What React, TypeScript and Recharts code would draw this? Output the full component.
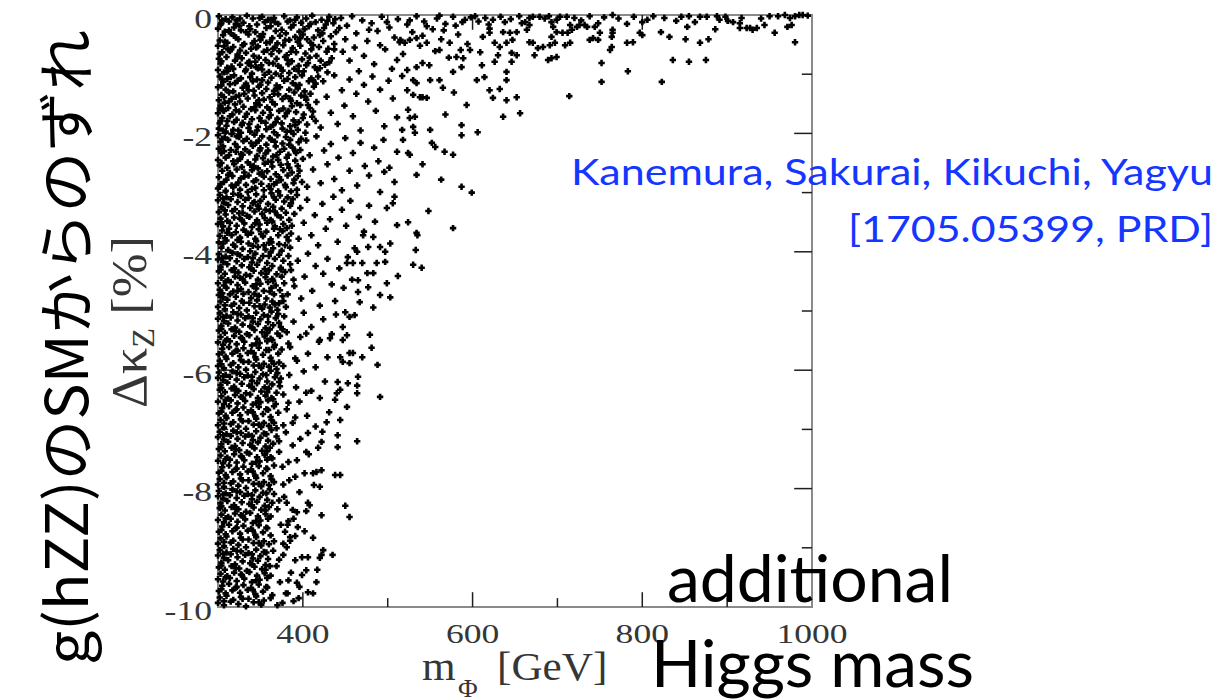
import { ReferenceArea, ReferenceLine, Scatter, ScatterChart, XAxis, YAxis } from 'recharts';

const SERIF = '"Liberation Serif", "Times New Roman", serif';
const FRAME = '#8a8a8a';
const INK = '#1e1e1e';
const LABEL = '#363636';
const BLUE = '#1436ff';

const X_TICKS = [300, 400, 500, 600, 700, 800, 900, 1000];
const Y_TICKS = [0, -1, -2, -3, -4, -5, -6, -7, -8, -9, -10];
const X_MAJOR = [400, 600, 800];
const X_MINOR = [500, 700, 900];
const Y_MAJOR = [-2, -4, -6, -8];
const Y_MINOR = [-1, -3, -5, -7, -9];

// scan points [m_Phi (GeV), delta kappa_Z (%)], grouped by 1% slices of delta kappa_Z
const band0 = [
  [301,-0.02],[309,-0.07],[317,-0.04],[322,-0.09],[334,-0.01],[341,-0.06],[352,-0.03],[359,-0.08],[366,-0.05],[378,-0.02],[385,-0.09],[393,-0.04],[404,-0.06],[411,-0.01],[422,-0.08],[431,-0.03],[438,-0.07],
  [304,-0.14],[313,-0.11],[325,-0.18],[330,-0.13],[346,-0.16],[355,-0.12],[362,-0.19],[371,-0.15],[382,-0.11],[389,-0.17],[398,-0.13],[407,-0.19],[415,-0.12],[427,-0.16],[436,-0.14],
  [300,-0.23],[308,-0.28],[319,-0.21],[327,-0.26],[338,-0.24],[344,-0.29],[357,-0.22],[368,-0.27],[375,-0.25],[386,-0.21],[396,-0.28],[402,-0.24],[418,-0.26],[425,-0.22],[439,-0.29],
  [306,-0.34],[315,-0.31],[321,-0.38],[336,-0.33],[349,-0.36],[353,-0.32],[364,-0.39],[373,-0.35],[380,-0.31],[391,-0.37],[400,-0.33],[413,-0.38],[420,-0.34],[433,-0.36],
  [302,-0.43],[311,-0.47],[324,-0.41],[331,-0.49],[343,-0.44],[350,-0.42],[361,-0.46],[370,-0.48],[384,-0.42],[394,-0.45],[405,-0.41],[409,-0.47],[424,-0.44],[437,-0.49],
  [300,-0.52],[312,-0.58],[318,-0.54],[329,-0.51],[339,-0.57],[347,-0.53],[358,-0.59],[367,-0.55],[377,-0.51],[388,-0.56],[397,-0.52],[410,-0.58],[419,-0.54],[430,-0.57],
  [305,-0.63],[314,-0.61],[323,-0.67],[333,-0.64],[342,-0.69],[354,-0.62],[363,-0.66],[372,-0.61],[381,-0.68],[392,-0.63],[403,-0.65],[416,-0.69],[428,-0.62],
  [301,-0.74],[310,-0.71],[320,-0.77],[328,-0.73],[337,-0.79],[348,-0.72],[356,-0.76],[369,-0.74],[379,-0.71],[387,-0.78],[399,-0.75],[408,-0.72],[421,-0.77],[434,-0.73],
  [303,-0.82],[316,-0.87],[326,-0.84],[335,-0.81],[345,-0.88],[351,-0.85],[365,-0.82],[374,-0.89],[383,-0.83],[395,-0.86],[406,-0.81],[414,-0.88],[426,-0.84],
  [300,-0.93],[307,-0.97],[318,-0.91],[332,-0.95],[340,-0.99],[352,-0.92],[360,-0.96],[376,-0.94],[384,-0.98],[390,-0.91],[401,-0.95],[417,-0.93],[429,-0.97],
  [303,-0.16],[308,-0.45],[302,-0.66],[311,-0.89],[315,-0.58],[326,-0.06],[319,-0.35],[344,-0.79],[357,-0.47],[362,-0.08],[371,-0.86],[345,-0.55],[333,-0.92],
  [305,-0.09],[321,-0.15],[337,-0.19],[349,-0.05],[367,-0.12],[391,-0.08],[409,-0.15],[429,-0.1],[313,-0.26],[333,-0.29],[352,-0.37],[379,-0.43],[397,-0.39],[423,-0.31],
  [307,-0.53],[326,-0.6],[341,-0.48],[365,-0.57],[386,-0.62],[412,-0.51],[304,-0.78],[323,-0.71],[339,-0.86],[360,-0.81],[382,-0.76],[404,-0.85],[431,-0.8],
  [312,-0.94],[347,-0.9],[368,-0.99],[395,-0.95],[420,-0.9],[437,-0.58],[443,-0.22],
  [445,-0.05],[452,-0.18],[458,-0.02],[463,-0.31],[470,-0.09],[476,-0.44],[481,-0.14],[488,-0.27],[493,-0.03],[497,-0.58],[502,-0.21],[508,-0.38],[512,-0.07],[518,-0.66],[523,-0.16],
  [529,-0.29],[534,-0.02],[538,-0.52],[543,-0.11],[549,-0.85],[553,-0.24],[558,-0.06],[563,-0.41],[568,-0.15],[572,-0.72],[577,-0.03],[583,-0.33],[588,-0.12],[594,-0.49],[598,-0.04],
  [447,-0.62],[455,-0.77],[466,-0.95],[472,-0.69],[484,-0.83],[491,-0.51],[505,-0.91],[515,-0.42],[526,-0.09],[541,-0.35],[556,-0.61],[566,-0.26],[580,-0.18],[591,-0.08],
  [450,-0.41],[461,-0.55],[478,-0.25],[499,-0.12],[520,-0.47],[546,-0.19],[561,-0.01],[586,-0.59],
  [514,-0.46],[526,-0.42],[534,-0.39],[546,-0.47],[561,-0.59],[573,-0.47],[581,-0.71],[589,-0.73],[597,-0.59],[511,-0.76],[523,-0.93],[534,-0.88],[541,-0.81],[587,-0.88],[577,-0.96],
  [609,-0.63],[612,-0.37],[620,-0.30],[611,-0.85],[626,-0.79],[630,-0.68],[646,-0.64],[652,-0.68],[646,-0.79],[632,-0.54],[626,-0.47],[647,-0.42],[644,-0.30],[636,-0.29],[652,-0.29],
  [640,-0.47],[640,-0.96],[679,-0.03],[671,-0.03],[667,-0.05],[662,-0.12],[664,-0.25],[667,-0.17],[671,-0.47],[667,-0.46],[673,-0.68],[677,-0.56],[683,-0.54],[703,-0.03],[711,-0.03],
  [699,-0.08],[693,-0.12],[695,-0.2],[699,-0.29],[693,-0.37],[697,-0.47],[691,-0.51],[689,-0.76],[693,-0.73],[699,-0.71],[732,-0.17],[735,-0.2],[726,-0.17],[723,-0.2],[715,-0.17],
  [712,-0.3],[706,-0.3],[715,-0.47],[709,-0.51],[717,-0.25],[748,-0.14],[744,-0.2],[750,-0.3],[742,-0.39],[738,-0.42],[748,-0.42],[762,-0.59],[764,-0.54],[765,-0.25],[765,-0.3],
  [764,-0.37],[765,0],[752,-0.81],[783,-0.95],[782,-0.15],[782,-0.47],[789,-0.46],[797,-0.3],[800,-0.34],[800,-0.12],[822,-0.29],[832,-0.37],[851,-0.41],[853,-0.2],[855,-0.02],
  [868,-0.03],[876,-0.03],[868,-0.47],[878,-0.41],[886,-0.24],[888,-0.02],[891,-0.08],[901,-0.1],[907,-0.12],[917,-0.05],[915,-0.14],[915,-0.22],[923,-0.22],[930,-0.25],[927,-0.22],
  [935,-0.22],[944,-0.17],[956,-0.3],[960,-0.02],[968,0],[974,-0.05],[980,-0.02],[985,0],[989,0],[976,-0.17],[971,-0.2],[980,-0.46],[836,-0.76],[855,-0.79],[875,-0.76],
  [603,-0.02],[607,-0.11],[615,-0.05],[619,-0.16],[624,-0.08],[633,-0.03],[638,-0.12],[645,-0.07],[655,-0.02],[658,-0.14],[620,-0.23],[685,-0.06],[690,-0.02],[720,-0.05],[728,-0.09],
  [738,-0.02],[755,-0.04],[772,-0.06],[790,-0.03],[806,-0.08],[813,-0.02],[826,-0.05],[840,-0.1],[846,-0.03],[862,-0.12],[898,-0.03],[940,-0.06],[950,-0.02],[995,-0.01],
];

const band1 = [
  [302,-1.04],[311,-1.08],[319,-1.02],[327,-1.07],[338,-1.05],[346,-1.09],[355,-1.01],[363,-1.06],[374,-1.03],[382,-1.08],[391,-1.05],[399,-1.02],[410,-1.07],[418,-1.04],
  [306,-1.13],[314,-1.17],[323,-1.11],[333,-1.16],[341,-1.12],[350,-1.18],[359,-1.14],[369,-1.19],[378,-1.11],[388,-1.15],[396,-1.18],[407,-1.12],[415,-1.16],
  [300,-1.22],[309,-1.26],[318,-1.29],[329,-1.23],[336,-1.27],[348,-1.21],[357,-1.25],[366,-1.28],[373,-1.22],[384,-1.26],[394,-1.24],[402,-1.29],[413,-1.21],
  [304,-1.35],[313,-1.31],[321,-1.38],[331,-1.33],[343,-1.36],[352,-1.32],[361,-1.39],[371,-1.34],[380,-1.37],[390,-1.31],[398,-1.36],[409,-1.33],
  [301,-1.44],[308,-1.48],[316,-1.42],[326,-1.46],[335,-1.41],[345,-1.49],[354,-1.43],[364,-1.47],[376,-1.42],[386,-1.45],[393,-1.49],[404,-1.43],[416,-1.47],
  [303,-1.53],[312,-1.57],[320,-1.51],[330,-1.55],[339,-1.59],[349,-1.52],[358,-1.56],[367,-1.51],[377,-1.58],[387,-1.54],[397,-1.52],[408,-1.57],
  [300,-1.66],[307,-1.62],[317,-1.68],[325,-1.63],[334,-1.67],[344,-1.61],[353,-1.65],[362,-1.69],[372,-1.62],[381,-1.66],[392,-1.64],[401,-1.68],[412,-1.63],
  [305,-1.74],[314,-1.71],[322,-1.77],[332,-1.72],[340,-1.76],[351,-1.79],[360,-1.73],[370,-1.75],[379,-1.71],[389,-1.78],[400,-1.74],[411,-1.72],
  [302,-1.83],[310,-1.87],[319,-1.81],[328,-1.86],[337,-1.84],[347,-1.89],[356,-1.82],[365,-1.86],[375,-1.83],[385,-1.88],[395,-1.81],[405,-1.85],
  [301,-1.92],[309,-1.97],[318,-1.94],[327,-1.99],[336,-1.91],[346,-1.95],[357,-1.93],[366,-1.98],[376,-1.92],[386,-1.96],[394,-1.94],[403,-1.99],
  [304,-1.19],[306,-1.61],[303,-1.79],[313,-1.46],[324,-1.95],[342,-1.28],[315,-1.05],
  [305,-1.09],[320,-1.15],[334,-1.2],[352,-1.1],[370,-1.24],[392,-1.19],[412,-1.1],[307,-1.39],[325,-1.36],[348,-1.44],[366,-1.33],[385,-1.41],[403,-1.38],[302,-1.58],[321,-1.61],
  [343,-1.56],[361,-1.6],[383,-1.62],[406,-1.52],[311,-1.79],[329,-1.82],[349,-1.74],[368,-1.81],[391,-1.86],[415,-1.79],[306,-1.95],[338,-1.97],[362,-1.89],[381,-1.97],[421,-1.9],
  [424,-1.12],[428,-1.38],[433,-1.65],[437,-1.02],[441,-1.84],[446,-1.27],[449,-1.53],[455,-1.09],[459,-1.71],[463,-1.33],[468,-1.95],[472,-1.18],[477,-1.46],[482,-1.04],[486,-1.62],
  [491,-1.26],[496,-1.88],[501,-1.11],[506,-1.41],[511,-1.73],[517,-1.03],[523,-1.27],[530,-1.35],[538,-1.39],[541,-1.39],[546,-1.40],[530,-1.1],[534,-1.15],[532,-1.72],[526,-1.74],
  [524,-1.6],[517,-1.94],[530,-1.89],[532,-1.99],[550,-1.1],[561,-1.1],[565,-1.23],
  [620,-1.27],[624,-1.40],[652,-1.39],[640,-1.44],[632,-1.25],[656,-1.66],[636,-1.72],[640,-1.1],[614,-1.05],[587,-1.86],[550,-1.94],[714,-1.37],[752,-1.13],[823,-1.13],[605,-1.1],
  [593,-1.52],[578,-1.31],[568,-1.68],[606,-1.98],
];

const band2 = [
  [300,-2.03],[308,-2.07],[316,-2.01],[325,-2.06],[334,-2.09],[343,-2.02],[352,-2.05],[361,-2.08],[370,-2.03],[380,-2.06],[389,-2.01],[398,-2.09],
  [303,-2.14],[312,-2.11],[320,-2.18],[330,-2.13],[339,-2.16],[348,-2.12],[357,-2.19],[367,-2.14],[376,-2.17],[385,-2.11],[395,-2.15],
  [301,-2.26],[306,-2.22],[315,-2.28],[323,-2.23],[332,-2.27],[341,-2.21],[350,-2.25],[359,-2.29],[368,-2.22],[378,-2.26],[388,-2.24],[397,-2.28],
  [304,-2.33],[313,-2.37],[321,-2.31],[329,-2.36],[337,-2.32],[346,-2.38],[356,-2.34],[365,-2.39],[373,-2.31],[383,-2.36],[392,-2.33],
  [300,-2.45],[309,-2.41],[318,-2.47],[326,-2.43],[335,-2.49],[344,-2.44],[353,-2.42],[363,-2.48],[371,-2.45],[381,-2.41],[391,-2.46],[400,-2.43],
  [302,-2.54],[311,-2.58],[319,-2.52],[328,-2.57],[338,-2.53],[347,-2.59],[355,-2.51],[364,-2.56],[374,-2.53],[384,-2.58],[394,-2.55],
  [305,-2.63],[314,-2.67],[322,-2.61],[331,-2.66],[340,-2.62],[349,-2.68],[358,-2.64],[368,-2.69],[377,-2.62],[387,-2.66],[396,-2.63],
  [301,-2.74],[310,-2.78],[317,-2.72],[327,-2.76],[336,-2.71],[345,-2.79],[354,-2.73],[362,-2.77],[372,-2.74],[382,-2.71],[390,-2.78],
  [303,-2.86],[307,-2.82],[316,-2.88],[324,-2.83],[333,-2.87],[342,-2.81],[351,-2.85],[360,-2.89],[369,-2.83],[379,-2.87],[389,-2.84],[399,-2.82],
  [300,-2.93],[309,-2.97],[318,-2.91],[326,-2.95],[335,-2.99],[344,-2.92],[354,-2.96],[362,-2.94],[371,-2.98],[380,-2.91],[393,-2.95],
  [305,-2.09],[322,-2.05],[345,-2.16],[363,-2.11],[384,-2.19],[307,-2.3],[327,-2.35],[349,-2.29],[369,-2.37],[391,-2.3],[304,-2.5],[323,-2.46],[342,-2.55],[359,-2.48],[382,-2.52],
  [312,-2.7],[331,-2.73],[352,-2.66],[374,-2.79],[394,-2.72],[302,-2.9],[321,-2.87],[340,-2.94],[366,-2.86],[386,-2.98],[405,-2.9],
  [404,-2.12],[408,-2.37],[412,-2.61],[416,-2.05],[421,-2.84],[425,-2.29],[429,-2.52],[433,-2.18],[437,-2.77],[442,-2.41],[446,-2.96],[450,-2.08],[455,-2.63],[459,-2.33],[464,-2.88],
  [468,-2.16],[473,-2.55],[478,-2.71],[484,-2.24],[489,-2.47],[495,-2.11],[502,-2.58],
  [552,-2.16],[556,-2.23],[567,-2.31],[577,-2.36],[534,-2.7],[511,-2.31],[524,-2.33],[526,-2.36],[518,-2.11],[587,-2.03],[587,-2.9],[599,-3.0],[491,-2.99],
  [541,-2.52],[563,-2.78],[508,-2.82],[496,-2.65],
];

const band3 = [
  [302,-3.04],[310,-3.08],[318,-3.02],[327,-3.06],[336,-3.09],[345,-3.03],[354,-3.07],[363,-3.01],[373,-3.05],[382,-3.08],
  [300,-3.13],[307,-3.17],[315,-3.11],[323,-3.16],[332,-3.12],[341,-3.18],[350,-3.14],[359,-3.19],[368,-3.12],[378,-3.15],[388,-3.11],
  [304,-3.25],[312,-3.21],[320,-3.28],[329,-3.23],[338,-3.26],[347,-3.22],[356,-3.29],[365,-3.24],[375,-3.27],[385,-3.22],
  [301,-3.33],[309,-3.37],[317,-3.31],[325,-3.35],[334,-3.39],[343,-3.32],[352,-3.36],[361,-3.31],[370,-3.38],[380,-3.34],[390,-3.36],
  [303,-3.44],[311,-3.48],[319,-3.42],[328,-3.46],[337,-3.41],[346,-3.47],[355,-3.43],[364,-3.49],[374,-3.42],[384,-3.46],
  [300,-3.53],[306,-3.57],[314,-3.51],[322,-3.56],[331,-3.52],[340,-3.58],[349,-3.54],[358,-3.51],[367,-3.57],[377,-3.53],[387,-3.56],
  [305,-3.64],[313,-3.61],[321,-3.67],[330,-3.63],[339,-3.68],[348,-3.62],[357,-3.66],[366,-3.61],[376,-3.65],[386,-3.69],
  [302,-3.73],[308,-3.77],[316,-3.72],[326,-3.76],[335,-3.71],[344,-3.78],[353,-3.74],[362,-3.79],[371,-3.72],[381,-3.75],
  [301,-3.84],[310,-3.81],[318,-3.88],[327,-3.83],[336,-3.86],[345,-3.82],[354,-3.89],[363,-3.84],[372,-3.87],[383,-3.81],
  [304,-3.93],[312,-3.97],[320,-3.91],[329,-3.95],[338,-3.99],[347,-3.92],[356,-3.96],[365,-3.94],[375,-3.98],[385,-3.93],
  [306,-3.1],[324,-3.04],[343,-3.16],[366,-3.08],[386,-3.18],[308,-3.3],[329,-3.34],[348,-3.27],[367,-3.32],[304,-3.5],[326,-3.44],[344,-3.52],[362,-3.46],[381,-3.6],[311,-3.68],
  [333,-3.66],[351,-3.7],[373,-3.62],[306,-3.86],[323,-3.8],[341,-3.9],[360,-3.85],[379,-3.89],[395,-3.78],
  [393,-3.04],[397,-3.26],[401,-3.51],[405,-3.12],[410,-3.72],[414,-3.38],[418,-3.89],[423,-3.19],[427,-3.61],[432,-3.45],[436,-3.07],[441,-3.83],[446,-3.29],[451,-3.56],[456,-3.14],
  [461,-3.94],[466,-3.41],[472,-3.66],[478,-3.22],[485,-3.49],
  [499,-3.26],[506,-3.18],[508,-3.07],[524,-3.5],[534,-3.68],[577,-3.6],[471,-3.72],[483,-3.75],[491,-3.92],[477,-3.92],[535,-3.72],[533,-3.97],
  [511,-3.55],[548,-3.31],[503,-3.86],
];

const band4 = [
  [301,-4.04],[309,-4.08],[317,-4.02],[326,-4.06],[335,-4.09],[344,-4.03],[353,-4.07],[362,-4.01],[372,-4.05],
  [300,-4.13],[306,-4.17],[314,-4.11],[322,-4.16],[331,-4.12],[340,-4.18],[349,-4.14],[358,-4.19],[367,-4.12],[377,-4.15],
  [303,-4.25],[311,-4.21],[319,-4.28],[328,-4.23],[337,-4.26],[346,-4.22],[355,-4.29],[364,-4.24],[374,-4.27],
  [301,-4.33],[308,-4.37],[316,-4.31],[324,-4.35],[333,-4.39],[342,-4.32],[351,-4.36],[360,-4.31],[369,-4.38],[379,-4.34],
  [304,-4.44],[312,-4.48],[320,-4.42],[329,-4.46],[338,-4.41],[347,-4.47],[356,-4.43],[365,-4.49],[375,-4.42],
  [300,-4.53],[307,-4.57],[315,-4.51],[323,-4.56],[332,-4.52],[341,-4.58],[350,-4.54],[359,-4.51],[368,-4.57],[378,-4.53],
  [302,-4.64],[310,-4.61],[318,-4.67],[327,-4.63],[336,-4.68],[345,-4.62],[354,-4.66],[363,-4.61],[373,-4.65],
  [301,-4.73],[306,-4.77],[314,-4.72],[321,-4.76],[330,-4.71],[339,-4.78],[348,-4.74],[357,-4.79],[366,-4.72],[376,-4.75],
  [303,-4.84],[311,-4.81],[319,-4.88],[328,-4.83],[337,-4.86],[346,-4.82],[355,-4.89],[364,-4.84],[372,-4.87],
  [300,-4.93],[308,-4.97],[316,-4.91],[325,-4.95],[334,-4.99],[343,-4.92],[352,-4.96],[361,-4.94],[370,-4.98],[380,-4.93],
  [305,-4.1],[323,-4.04],[341,-4.11],[360,-4.07],[303,-4.3],[320,-4.34],[339,-4.28],[357,-4.37],[374,-4.3],[309,-4.5],[326,-4.44],[345,-4.55],[364,-4.46],[305,-4.7],[323,-4.66],
  [343,-4.71],[361,-4.67],[382,-4.72],[308,-4.9],[330,-4.86],[349,-4.92],[367,-4.89],[385,-4.21],[389,-4.47],[377,-4.83],
  [383,-4.07],[386,-4.31],[390,-4.58],[394,-4.15],[398,-4.79],[402,-4.42],[406,-4.03],[411,-4.66],[415,-4.24],[420,-4.91],[424,-4.37],[429,-4.12],[434,-4.55],[438,-4.83],[443,-4.28],
  [448,-4.61],[453,-4.09],[458,-4.47],
  [497,-4.17],[497,-4.0],[487,-4.19],[483,-4.36],[476,-4.36],[464,-4.0],[470,-4.19],[459,-4.19],[452,-4.19],[530,-4.22],[540,-4.27],[499,-4.53],[503,-4.77],[491,-4.73],[477,-4.6],
  [465,-4.68],[467,-4.85],[465,-4.48],[483,-4.94],[512,-4.41],
];

const band5 = [
  [302,-5.04],[310,-5.08],[318,-5.02],[327,-5.06],[336,-5.09],[345,-5.03],[354,-5.07],[363,-5.01],[371,-5.05],
  [300,-5.13],[307,-5.17],[315,-5.11],[323,-5.16],[332,-5.12],[341,-5.18],[350,-5.14],[359,-5.19],[368,-5.12],
  [304,-5.25],[312,-5.21],[320,-5.28],[329,-5.23],[338,-5.26],[347,-5.22],[356,-5.29],[365,-5.24],[374,-5.27],
  [301,-5.33],[308,-5.37],[316,-5.31],[325,-5.35],[334,-5.39],[343,-5.32],[352,-5.36],[361,-5.31],[370,-5.38],
  [303,-5.44],[311,-5.48],[319,-5.42],[328,-5.46],[337,-5.41],[346,-5.47],[355,-5.43],[364,-5.49],[373,-5.42],
  [300,-5.53],[306,-5.57],[314,-5.51],[322,-5.56],[331,-5.52],[340,-5.58],[349,-5.54],[358,-5.51],[367,-5.57],
  [305,-5.64],[313,-5.61],[321,-5.67],[330,-5.63],[339,-5.68],[348,-5.62],[357,-5.66],[366,-5.61],[375,-5.65],
  [301,-5.73],[309,-5.77],[317,-5.72],[326,-5.76],[335,-5.71],[344,-5.78],[353,-5.74],[362,-5.79],[371,-5.72],
  [302,-5.84],[310,-5.81],[318,-5.88],[327,-5.83],[336,-5.86],[345,-5.82],[354,-5.89],[363,-5.84],[372,-5.87],
  [300,-5.93],[307,-5.97],[315,-5.91],[324,-5.95],[333,-5.99],[342,-5.92],[351,-5.96],[360,-5.94],[369,-5.98],
  [306,-5.1],[323,-5.05],[341,-5.12],[359,-5.09],[304,-5.3],[321,-5.34],[340,-5.28],[358,-5.37],[376,-5.31],[309,-5.5],[327,-5.45],[345,-5.55],[362,-5.47],[305,-5.7],[323,-5.67],
  [342,-5.71],[360,-5.66],[304,-5.9],[330,-5.86],[348,-5.92],[366,-5.89],[372,-5.2],[383,-5.55],[391,-5.8],[404,-5.38],[377,-5.93],
  [378,-5.09],[381,-5.36],[385,-5.61],[389,-5.18],[393,-5.84],[397,-5.44],[401,-5.03],[406,-5.72],[410,-5.27],[415,-5.95],[419,-5.52],[424,-5.14],[429,-5.78],[434,-5.39],[439,-5.06],
  [461,-5.07],[455,-5.1],[450,-5.02],[447,-5.27],[452,-5.41],[447,-5.49],[432,-5.46],[420,-5.49],[479,-5.4],[481,-5.62],[488,-5.91],[455,-5.88],[470,-5.78],[459,-5.71],[444,-5.78],
  [447,-5.86],[455,-5.71],
];

const band6 = [
  [301,-6.04],[309,-6.08],[317,-6.02],[326,-6.06],[335,-6.09],[344,-6.03],[353,-6.07],[362,-6.01],[370,-6.05],
  [300,-6.13],[306,-6.17],[314,-6.11],[322,-6.16],[331,-6.12],[340,-6.18],[349,-6.14],[358,-6.19],[367,-6.12],
  [303,-6.25],[311,-6.21],[319,-6.28],[328,-6.23],[337,-6.26],[346,-6.22],[355,-6.29],[364,-6.24],[373,-6.27],
  [302,-6.33],[308,-6.37],[316,-6.31],[324,-6.35],[333,-6.39],[342,-6.32],[351,-6.36],[360,-6.31],[369,-6.38],
  [304,-6.44],[312,-6.48],[320,-6.42],[329,-6.46],[338,-6.41],[347,-6.47],[356,-6.43],[365,-6.49],
  [300,-6.53],[307,-6.57],[315,-6.51],[323,-6.56],[332,-6.52],[341,-6.58],[350,-6.54],[359,-6.51],[368,-6.57],
  [305,-6.64],[313,-6.61],[321,-6.67],[330,-6.63],[339,-6.68],[348,-6.62],[357,-6.66],[366,-6.61],
  [301,-6.73],[309,-6.77],[317,-6.72],[326,-6.76],[335,-6.71],[344,-6.78],[353,-6.74],[362,-6.79],[371,-6.72],
  [303,-6.84],[310,-6.81],[318,-6.88],[327,-6.83],[336,-6.86],[345,-6.82],[354,-6.89],[363,-6.84],
  [300,-6.93],[307,-6.97],[315,-6.91],[324,-6.95],[333,-6.99],[342,-6.92],[351,-6.96],[360,-6.94],[369,-6.98],
  [306,-6.1],[322,-6.05],[340,-6.11],[357,-6.08],[304,-6.3],[321,-6.34],[340,-6.28],[358,-6.37],[309,-6.5],[327,-6.45],[345,-6.55],[363,-6.47],[304,-6.7],[322,-6.66],[341,-6.71],
  [359,-6.67],[307,-6.9],[329,-6.86],[348,-6.92],[366,-6.89],[372,-6.2],[383,-6.55],[391,-6.8],[404,-6.38],[377,-6.93],
  [374,-6.14],[377,-6.41],[381,-6.66],[384,-6.08],[388,-6.89],[392,-6.29],[396,-6.53],[401,-6.02],[405,-6.77],[410,-6.35],[415,-6.95],[420,-6.47],[426,-6.19],[431,-6.71],
  [465,-6.11],[464,-6.39],[453,-6.22],[464,-6.26],[441,-6.2],[444,-6.33],[440,-6.39],[438,-6.5],[491,-6.45],[444,-6.84],[452,-6.62],[428,-6.88],
];

const band7 = [
  [302,-7.04],[310,-7.08],[318,-7.02],[327,-7.06],[336,-7.09],[345,-7.03],[354,-7.07],[363,-7.01],
  [300,-7.13],[307,-7.17],[315,-7.11],[323,-7.16],[332,-7.12],[341,-7.18],[350,-7.14],[359,-7.19],
  [304,-7.25],[312,-7.21],[320,-7.28],[329,-7.23],[338,-7.26],[347,-7.22],[356,-7.29],[365,-7.24],
  [301,-7.33],[308,-7.37],[316,-7.31],[325,-7.35],[334,-7.39],[343,-7.32],[352,-7.36],[361,-7.31],
  [303,-7.44],[311,-7.48],[319,-7.42],[328,-7.46],[337,-7.41],[346,-7.47],[355,-7.43],[364,-7.49],
  [300,-7.53],[306,-7.57],[314,-7.51],[322,-7.56],[331,-7.52],[340,-7.58],[349,-7.54],[358,-7.51],
  [305,-7.64],[313,-7.61],[321,-7.67],[330,-7.63],[339,-7.68],[348,-7.62],[357,-7.66],[366,-7.61],
  [301,-7.73],[309,-7.77],[317,-7.72],[326,-7.76],[335,-7.71],[344,-7.78],[353,-7.74],[362,-7.79],
  [302,-7.84],[310,-7.81],[318,-7.88],[327,-7.83],[336,-7.86],[345,-7.82],[354,-7.89],[363,-7.84],
  [300,-7.93],[307,-7.97],[315,-7.91],[324,-7.95],[333,-7.99],[342,-7.92],[351,-7.96],[360,-7.94],
  [306,-7.1],[322,-7.05],[340,-7.11],[357,-7.08],[304,-7.3],[321,-7.34],[340,-7.28],[358,-7.37],[309,-7.5],[327,-7.45],[345,-7.55],[362,-7.47],[304,-7.7],[322,-7.66],[341,-7.71],
  [358,-7.67],[307,-7.9],[329,-7.86],[348,-7.92],[366,-7.89],[372,-7.2],[383,-7.55],[391,-7.8],[404,-7.38],[377,-7.93],
  [369,-7.12],[372,-7.38],[376,-7.63],[380,-7.05],[384,-7.86],[388,-7.27],[393,-7.52],[397,-7.16],[402,-7.74],[407,-7.42],[413,-7.94],[418,-7.31],
  [464,-7.2],[441,-7.3],[441,-7.1],[422,-7.21],[423,-7.04],[406,-7.06],[444,-7.77],[438,-7.77],[422,-7.69],[416,-7.72],[412,-7.74],[420,-7.97],
];

const band8 = [
  [301,-8.04],[309,-8.08],[317,-8.02],[326,-8.06],[335,-8.09],[344,-8.03],[353,-8.07],[361,-8.01],
  [300,-8.13],[306,-8.17],[314,-8.11],[322,-8.16],[331,-8.12],[340,-8.18],[349,-8.14],[358,-8.19],
  [303,-8.25],[311,-8.21],[319,-8.28],[328,-8.23],[337,-8.26],[346,-8.22],[355,-8.29],[364,-8.24],
  [302,-8.33],[308,-8.37],[316,-8.31],[324,-8.35],[333,-8.39],[342,-8.32],[351,-8.36],[360,-8.31],
  [304,-8.44],[312,-8.48],[320,-8.42],[329,-8.46],[338,-8.41],[347,-8.47],[356,-8.43],
  [300,-8.53],[307,-8.57],[315,-8.51],[323,-8.56],[332,-8.52],[341,-8.58],[350,-8.54],[359,-8.51],
  [305,-8.64],[313,-8.61],[321,-8.67],[330,-8.63],[339,-8.68],[348,-8.62],[357,-8.66],
  [301,-8.73],[309,-8.77],[317,-8.72],[326,-8.76],[335,-8.71],[344,-8.78],[353,-8.74],[362,-8.79],
  [303,-8.84],[310,-8.81],[318,-8.88],[327,-8.83],[336,-8.86],[345,-8.82],[354,-8.89],
  [300,-8.93],[307,-8.97],[315,-8.91],[324,-8.95],[333,-8.99],[342,-8.92],[351,-8.96],[360,-8.94],
  [306,-8.1],[322,-8.05],[340,-8.11],[357,-8.08],[304,-8.3],[321,-8.34],[340,-8.28],[356,-8.37],[309,-8.5],[327,-8.45],[345,-8.55],[362,-8.47],[304,-8.7],[322,-8.66],[341,-8.71],
  [358,-8.67],[307,-8.9],[329,-8.86],[348,-8.92],[366,-8.89],[372,-8.2],[383,-8.55],[391,-8.8],[404,-8.38],[377,-8.93],
  [366,-8.09],[370,-8.35],[374,-8.61],[378,-8.14],[385,-8.88],[389,-8.51],[396,-8.06],[402,-8.72],[408,-8.28],
  [455,-8.48],[450,-8.29],[422,-8.45],[406,-8.24],[393,-8.4],[388,-8.36],[382,-8.61],[394,-8.65],[385,-8.82],[379,-8.73],[381,-8.99],[381,-8.24],[412,-8.83],
];

const band9 = [
  [302,-9.04],[310,-9.08],[318,-9.02],[327,-9.06],[336,-9.09],[345,-9.03],[354,-9.07],
  [300,-9.13],[307,-9.17],[315,-9.11],[323,-9.16],[332,-9.12],[341,-9.18],[350,-9.14],[359,-9.19],
  [304,-9.25],[312,-9.21],[320,-9.28],[329,-9.23],[338,-9.26],[347,-9.22],[356,-9.29],
  [301,-9.33],[308,-9.37],[316,-9.31],[325,-9.35],[334,-9.39],[343,-9.32],[352,-9.36],[361,-9.31],
  [303,-9.44],[311,-9.48],[319,-9.42],[328,-9.46],[337,-9.41],[346,-9.47],[355,-9.43],
  [300,-9.53],[306,-9.57],[314,-9.51],[322,-9.56],[331,-9.52],[340,-9.58],[349,-9.54],[358,-9.51],
  [305,-9.64],[313,-9.61],[321,-9.67],[330,-9.63],[339,-9.68],[348,-9.62],[357,-9.66],
  [301,-9.73],[309,-9.77],[317,-9.72],[326,-9.76],[335,-9.71],[344,-9.78],[353,-9.74],
  [302,-9.84],[310,-9.81],[318,-9.88],[327,-9.83],[336,-9.86],[345,-9.82],[354,-9.89],[362,-9.85],
  [300,-9.93],[307,-9.97],[315,-9.91],[324,-9.95],[333,-9.99],[342,-9.92],[351,-9.96],[370,-9.97],
  [306,-9.1],[322,-9.05],[340,-9.11],[357,-9.08],[304,-9.3],[321,-9.34],[340,-9.28],[356,-9.37],[309,-9.5],[327,-9.45],[345,-9.55],[362,-9.47],[304,-9.7],[322,-9.66],[341,-9.71],
  [358,-9.67],[307,-9.9],[329,-9.86],[348,-9.92],[364,-9.8],[372,-9.2],[383,-9.55],[389,-9.9],[404,-9.38],[376,-9.93],
  [365,-9.05],[369,-9.31],[373,-9.58],[377,-9.12],[380,-9.77],[386,-9.42],[391,-9.21],[396,-9.66],
  [435,-9.12],[424,-9.04],[422,-9.12],[420,-9.17],[406,-9.16],[417,-9.37],[416,-9.58],[399,-9.46],[393,-9.59],[406,-9.75],[412,-9.77],[395,-9.85],[382,-9.77],[399,-9.16],
];

const points = [band0, band1, band2, band3, band4, band5, band6, band7, band8, band9]
  .flat()
  .map(([x, y]) => ({ x, y }));

// small filled "+" marker
const Plus = (props: any) => {
  const { cx, cy } = props;
  if (cx == null || cy == null) return null;
  return <path d={`M${cx - 3.2},${cy}h6.4M${cx},${cy - 3.2}v6.4`} stroke="#000" strokeWidth={2.6} />;
};

const serifLabel = (x: number, y: number, text: string, anchor: 'start' | 'middle' | 'end') => (
  <text
    transform={`translate(${x},${y}) scale(1.27,1)`}
    textAnchor={anchor}
    dominantBaseline="central"
    fontFamily={SERIF}
    fontSize={28}
    fill={LABEL}
  >
    {text}
  </text>
);

const BottomLabel = ({ x, y, payload }: any) =>
  payload.value % 200 === 0 ? serifLabel(x, y + 26, String(payload.value), 'middle') : <g />;

const LeftLabel = ({ x, y, payload }: any) =>
  payload.value % 2 === 0 ? serifLabel(x - 6, y + 3, String(payload.value), 'end') : <g />;

// tick marks point into the plot; lengths are given in axis units
const X_TICK_LONG = 0.25;
const X_TICK_SHORT = 0.15;
const Y_TICK_LONG = 21;
const Y_TICK_SHORT = 12;
const tickStyle = { stroke: INK, strokeWidth: 1.5 };

export default function App() {
  return (
    <div style={{ position: 'relative', width: 1231, height: 699, background: '#fff', overflow: 'hidden' }}>
      <style>{'body{margin:0}'}</style>
      <ScatterChart width={1231} height={699} margin={{ top: 15, right: 419, bottom: 0, left: 0 }}>
        <XAxis
          type="number"
          dataKey="x"
          domain={[300, 1000]}
          ticks={X_TICKS}
          height={92}
          axisLine={false}
          tickLine={false}
          tickSize={0}
          tickMargin={0}
          tick={BottomLabel}
        />
        <YAxis
          type="number"
          dataKey="y"
          domain={[-10, 0]}
          ticks={Y_TICKS}
          width={218}
          axisLine={false}
          tickLine={false}
          tickSize={0}
          tickMargin={0}
          tick={LeftLabel}
        />
        <ReferenceArea x1={300} x2={1000} y1={-10} y2={0} fill="none" stroke={FRAME} strokeWidth={2} />
        {[...X_MAJOR, ...X_MINOR].map((v) => {
          const len = X_MAJOR.includes(v) ? X_TICK_LONG : X_TICK_SHORT;
          return [
            <ReferenceLine key={`b${v}`} segment={[{ x: v, y: -10 }, { x: v, y: -10 + len }]} {...tickStyle} />,
            <ReferenceLine key={`t${v}`} segment={[{ x: v, y: 0 }, { x: v, y: -len }]} {...tickStyle} />,
          ];
        })}
        {[...Y_MAJOR, ...Y_MINOR].map((v) => {
          const len = Y_MAJOR.includes(v) ? Y_TICK_LONG : Y_TICK_SHORT;
          return [
            <ReferenceLine key={`l${v}`} segment={[{ x: 300, y: v }, { x: 300 + len, y: v }]} {...tickStyle} />,
            <ReferenceLine key={`r${v}`} segment={[{ x: 1000, y: v }, { x: 1000 - len, y: v }]} {...tickStyle} />,
          ];
        })}
        <Scatter data={points} shape={Plus} isAnimationActive={false} />
      </ScatterChart>

      <svg
        width={1231}
        height={699}
        style={{ position: 'absolute', left: 0, top: 0, pointerEvents: 'none' }}
      >
        <text
          transform="translate(88,665) rotate(-90)"
          fontFamily='"Noto Sans CJK JP", sans-serif'
          fontSize={58}
          textLength={635}
          lengthAdjust="spacingAndGlyphs"
          fill="#000"
        >
          g(hZZ)のSMからのずれ
        </text>

        <text
          transform="translate(146,408) rotate(-90) scale(1,1.2)"
          fontFamily={SERIF}
          fontSize={42}
          fill={LABEL}
          textLength={172}
          lengthAdjust="spacingAndGlyphs"
        >
          Δκ
          <tspan fontSize={26} dy={7}>Z</tspan>
          <tspan dy={-7}> [%]</tspan>
        </text>

        <g fontFamily={SERIF} fill={LABEL}>
          <text transform="translate(422,680) scale(1.08,1)" fontSize={40}>m</text>
          <text transform="translate(458,697) scale(1.08,1)" fontSize={25}>Φ</text>
          <text transform="translate(497,680) scale(1.08,1)" fontSize={40}>[GeV]</text>
        </g>

        <g fontFamily="Lato, sans-serif" fill={BLUE}>
          <text x={1213} y={185} textAnchor="end" fontSize={37} textLength={642} lengthAdjust="spacingAndGlyphs">
            Kanemura, Sakurai, Kikuchi, Yagyu
          </text>
          <text x={1213} y={242} textAnchor="end" fontSize={37} textLength={365} lengthAdjust="spacingAndGlyphs">
            [1705.05399, PRD]
          </text>
        </g>

        <g fontFamily="Lato, sans-serif" fill="#000">
          <text x={667} y={602} fontSize={66} textLength={286} lengthAdjust="spacingAndGlyphs">
            additional
          </text>
          <text x={651} y={687} fontSize={66} textLength={323} lengthAdjust="spacingAndGlyphs">
            Higgs mass
          </text>
        </g>
      </svg>
    </div>
  );
}
